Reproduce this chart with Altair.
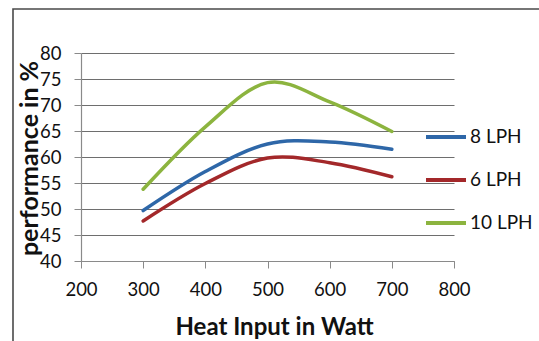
import altair as alt
import pandas as pd

# Heat input (W) at which performance was measured
heat_input = [300, 400, 500, 600, 700]

# Performance (%) for each water flow rate
perf_8lph = [49.7, 57.2, 62.5, 62.9, 61.5]
perf_6lph = [47.7, 54.9, 59.8, 58.9, 56.2]
perf_10lph = [53.8, 65.8, 74.3, 70.6, 64.9]

series_names = ["8 LPH", "6 LPH", "10 LPH"]
series_colors = ["#2e67a8", "#a3282a", "#8cb43f"]

x_ticks = [200, 300, 400, 500, 600, 700, 800]
y_ticks = [40, 45, 50, 55, 60, 65, 70, 75, 80]

rows = []
for name, values in zip(series_names, [perf_8lph, perf_6lph, perf_10lph]):
    for h, p in zip(heat_input, values):
        rows.append({"heat": h, "perf": p, "series": name})
df = pd.DataFrame(rows)

FONT = "Lato"

lines = alt.Chart(df).mark_line(
    interpolate="cardinal", strokeWidth=3.5, strokeCap="round"
).encode(
    x=alt.X(
        "heat:Q",
        scale=alt.Scale(domain=[200, 800], nice=False),
        axis=alt.Axis(
            values=x_ticks,
            title="Heat Input in Watt",
            grid=False,
            tickSize=7,
            labelPadding=12,
            labelFlush=False,
            titleX=193,
            titleY=54,
            titleFontSize=24,
        ),
    ),
    y=alt.Y(
        "perf:Q",
        scale=alt.Scale(domain=[40, 80], nice=False, zero=False),
        axis=alt.Axis(
            values=y_ticks,
            title="performance in %",
            grid=True,
            tickSize=7,
            labelPadding=13,
            titleX=-39,
            titleY=105,
            titleFontSize=25,
        ),
    ),
    color=alt.Color(
        "series:N",
        scale=alt.Scale(domain=series_names, range=series_colors),
        sort=series_names,
        legend=alt.Legend(
            title=None,
            orient="none",
            legendX=343,
            legendY=62,
            symbolType="stroke",
            symbolSize=1600,
            symbolStrokeWidth=4,
            labelFontSize=19,
            labelFont=FONT,
            labelColor="#111111",
            labelOffset=2,
            rowPadding=11,
        ),
    ),
    detail="series:N",
)

# Outer frame around the whole figure
frame = alt.Chart(pd.DataFrame({"k": [0]})).mark_rect(
    fill=None, stroke="#4a4a4a", strokeWidth=1.6
).encode(
    x=alt.value(-68),
    x2=alt.value(560),
    y=alt.value(-44),
    y2=alt.value(400),
)

chart = alt.layer(frame, lines).properties(
    width=373,
    height=208,
    autosize=alt.AutoSizeParams(type="none"),
    padding={"left": 81, "top": 53, "right": 85, "bottom": 80},
).configure_view(
    stroke=None
).configure_axis(
    labelFont=FONT,
    labelFontSize=18.5,
    labelColor="#111111",
    titleFont=FONT,
    titleFontWeight="bold",
    titleColor="#111111",
    domainColor="#8a8a8a",
    tickColor="#8a8a8a",
    gridColor="#6e6e6e",
    gridWidth=1,
    domainWidth=1.2,
)

chart.save("out.html", embed_options={"renderer": "svg", "actions": False})
